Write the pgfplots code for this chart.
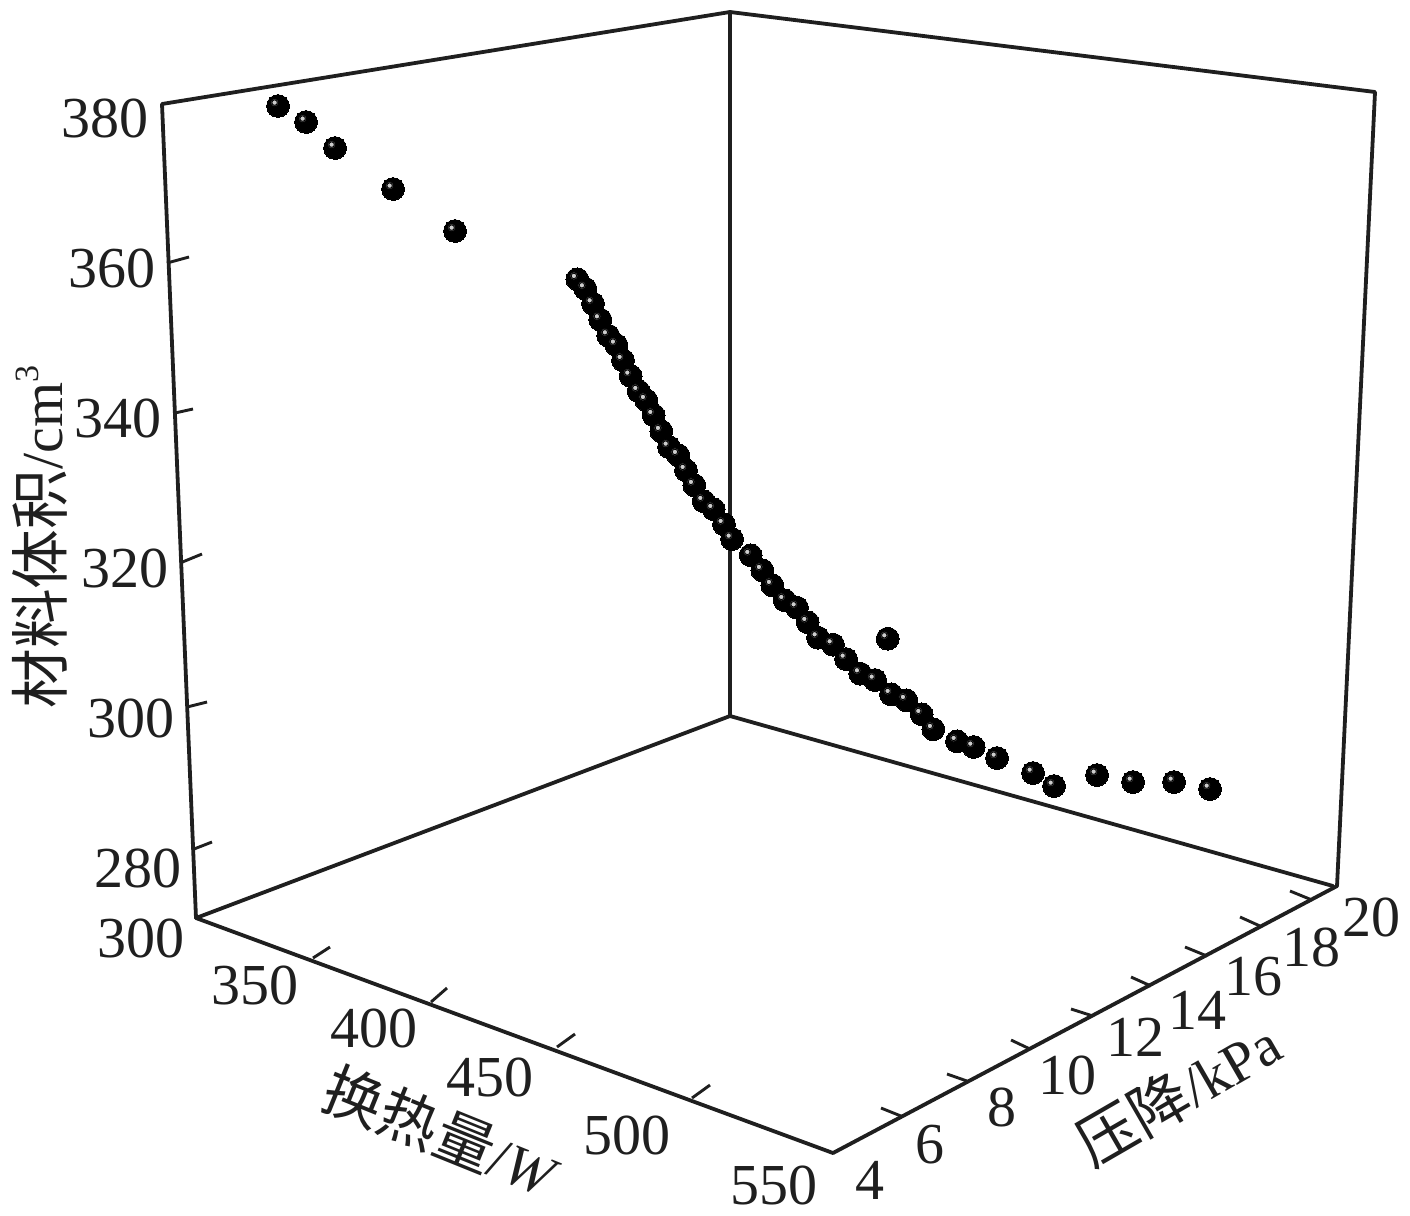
\documentclass[border=0pt]{standalone}
\usepackage{fontspec}
\usepackage{pgfplots}
\usepackage{pgfplotstable}
\pgfplotsset{compat=1.18}
\setmainfont{Liberation Serif}
\newfontfamily\cjk{Noto Sans CJK SC}[Scale=1.03]
\definecolor{ink}{gray}{0.12}
\newcommand{\tl}{\fontsize{29}{30}\selectfont}
\pgfplotstableread{
px py
278 106
306 122
335 148
393 189
455 231
577.3 279.3
585.3 288.7
593 303.7
600.3 319.7
608.3 335.7
616.3 345
623 360.3
630.7 376
638.7 391.3
646.3 400.3
653.7 415.3
661.3 431.3
669 447
678.3 455.3
686 470.3
694.3 485.3
703.7 501.3
713.7 509.3
724 524.3
732 539
750.7 555.3
762.3 570.3
772.3 585.3
784.7 600.3
797 607.7
807.7 622.3
818 637.7
833 644.7
846 659
860.3 673.7
875 680
891 694.3
906.3 700.3
921.7 714.3
933.3 729.3
957 741.3
973.7 747
997 758
1033 773
1054 786
1097 775
1133 782
1174 782
1210 789
887.7 638.7
}\points
\pgfplotsset{
 frameline/.style={ink, line width=1.9pt, line cap=round, line join=round, forget plot},
 tickline/.style={ink, line width=1.45pt, forget plot},
}
\begin{document}
\begin{tikzpicture}
\begin{axis}[
  hide axis, clip=false, scale only axis,
  width=705pt, height=607.5pt,
  xmin=0, xmax=1410, ymin=0, ymax=1215, y dir=reverse,
]
% spheres
\addplot[only marks, mark=*, mark size=5.7pt, mark options={fill=black, draw=black, line width=0pt}] table[x=px,y=py] {\points};
% frame
\addplot[frameline] coordinates {(162,104) (730,12) (1375,92) (1337,886) (833,1153) (196,918) (162,104)};
\addplot[frameline] coordinates {(730,12) (730,716)};
\addplot[frameline] coordinates {(196,918) (730,716) (1333,886)};
% z ticks
\addplot[tickline] coordinates {(167,263) (189,257)};
\addplot[tickline] coordinates {(175,413) (193,409)};
\addplot[tickline] coordinates {(180,563) (202,554)};
\addplot[tickline] coordinates {(187,707) (207,702)};
\addplot[tickline] coordinates {(194,849) (212,842)};
% x ticks
\addplot[tickline] coordinates {(313,958) (330,947)};
\addplot[tickline] coordinates {(431,1002) (447,988)};
\addplot[tickline] coordinates {(557,1047) (575,1034)};
\addplot[tickline] coordinates {(692,1098) (710,1085)};
% y ticks
\addplot[tickline] coordinates {(901,1116) (881,1108)};
\addplot[tickline] coordinates {(967,1081) (947,1074)};
\addplot[tickline] coordinates {(1030,1049) (1011,1040)};
\addplot[tickline] coordinates {(1093,1016) (1071,1009)};
\addplot[tickline] coordinates {(1151,986) (1131,977)};
\addplot[tickline] coordinates {(1207,956) (1185,947)};
\addplot[tickline] coordinates {(1260,926) (1240,917)};
\addplot[tickline] coordinates {(1312,900) (1290,891)};
% highlights
\addplot[only marks, mark=*, mark size=2.1pt, mark options={fill=gray!60!black, draw=none, xshift=-1.7pt, yshift=1.7pt}] table[x=px,y=py] {\points};
\addplot[only marks, mark=*, mark size=1.35pt, mark options={fill=gray!40, draw=none, xshift=-1.7pt, yshift=1.7pt}] table[x=px,y=py] {\points};
% labels
\begin{scope}[every node/.style={text=ink, inner sep=0pt, font=\tl}]
\node at (axis cs:105,118) {380};
\node at (axis cs:112,268) {360};
\node at (axis cs:118,418) {340};
\node at (axis cs:125,568) {320};
\node at (axis cs:131,718) {300};
\node at (axis cs:138,868) {280};
\node at (axis cs:141,938) {300};
\node at (axis cs:255,985) {350};
\node at (axis cs:374,1028) {400};
\node at (axis cs:490,1077) {450};
\node at (axis cs:627,1135) {500};
\node at (axis cs:774,1185) {550};
\node at (axis cs:870,1180) {4};
\node at (axis cs:930,1145) {6};
\node at (axis cs:1002,1107) {8};
\node at (axis cs:1067,1075) {10};
\node at (axis cs:1135,1037) {12};
\node at (axis cs:1197,1010) {14};
\node at (axis cs:1253,977) {16};
\node at (axis cs:1311,947) {18};
\node at (axis cs:1371,917) {20};
\node[rotate=90] at (axis cs:40,537) {{\cjk 材料体积}/cm\raisebox{0.42em}{\fontsize{17}{18}\selectfont 3}};
\node[rotate=-22] at (axis cs:442,1132) {{\cjk 换热量}/\textit{W}};
\node[rotate=30] at (axis cs:1178,1093) {{\cjk 压降}/kPa};
\end{scope}
\path[use as bounding box] (axis cs:0,0) rectangle (axis cs:1410,1215);
\end{axis}
\end{tikzpicture}
\end{document}
